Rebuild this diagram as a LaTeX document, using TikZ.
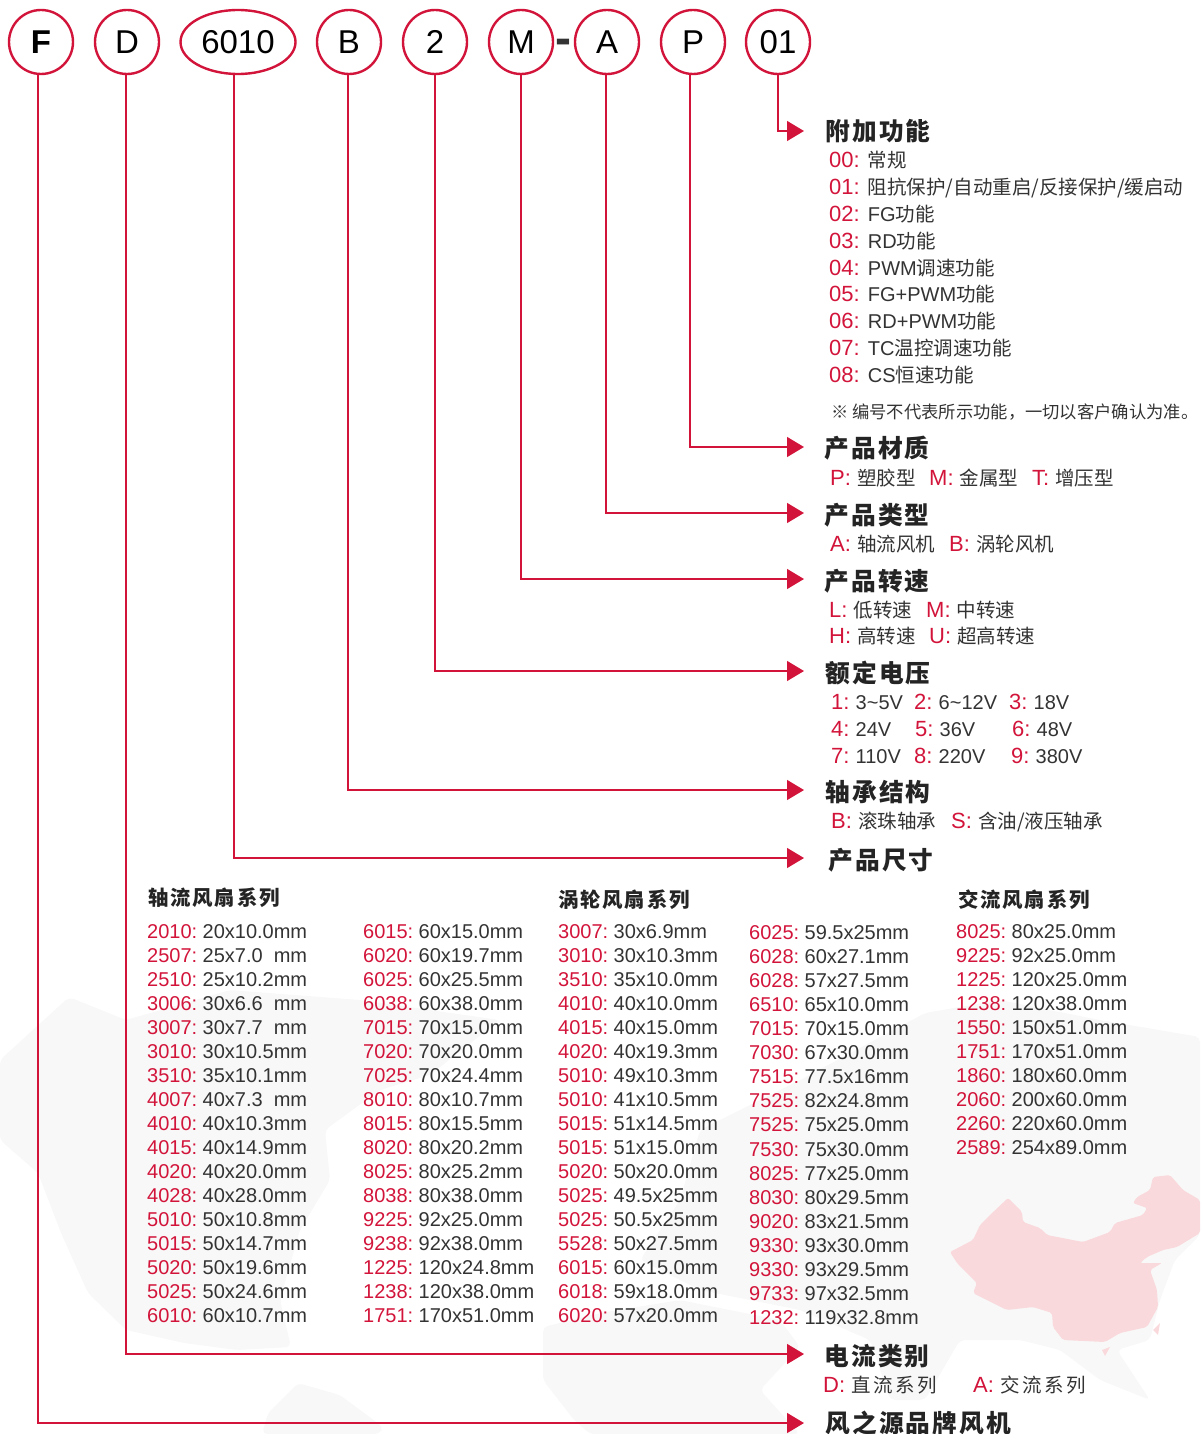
\documentclass[tikz,border=0pt]{standalone}
\usepackage{fontspec}
\setmainfont{Liberation Sans}
\newfontfamily\zhfont{Noto Sans CJK SC}
\newfontfamily\zhtitle[LetterSpace=9]{Noto Sans CJK SC}
\newfontfamily\zhwide[LetterSpace=13]{Noto Sans CJK SC}
\usetikzlibrary{arrows.meta,shapes.geometric}
\definecolor{fanred}{HTML}{D2143A}
\definecolor{fantext}{HTML}{333333}
\definecolor{fanland}{HTML}{F8F8F8}
\definecolor{fanchina}{HTML}{FAD9DC}
\newcommand{\zh}[2][19.5]{{\zhfont\fontsize{#1}{22}\selectfont #2}}
\newcommand{\zhw}[1]{{\zhwide\fontsize{19.5}{22}\selectfont #1}}
\newcommand{\itm}[2]{{\fontsize{22}{24}\selectfont\color{fanred}#1: }#2}
\newcommand{\voltitm}[2]{{\fontsize{22}{24}\selectfont\color{fanred}#1: }\kern-2pt #2}
\newcommand{\sizeitm}[2]{{\color{fanred}#1:} \kern-2pt #2}
\newcommand{\mmgap}{\ \ }

\begin{document}
\begin{tikzpicture}[%
    x=1pt,y=-1pt,
    >={Triangle[width=20pt,length=17pt]},
    ring/.style={draw=fanred,line width=2.4pt,ellipse,inner sep=0pt,minimum width=64pt,minimum height=64pt,
        font=\fontsize{33}{36}\selectfont,text=black},
    feed/.style={draw=fanred,line width=1.4pt,->,color=fanred},
    heading/.style={anchor=west,inner sep=0pt,text=fantext!70!black,font=\zhtitle\fontsize{24.7}{28}\selectfont\bfseries},
    series/.style={anchor=west,inner sep=0pt,text=fantext!70!black,font=\zhtitle\fontsize{20.4}{24}\selectfont\bfseries},
    spec/.style={anchor=base west,inner sep=0pt,text=fantext,font=\fontsize{20}{24}\selectfont},
    ]
    \useasboundingbox (0,0) rectangle (1200,1434);

    % map behind everything
    \fill[fanland,rounded corners=5pt] (0,1060) -- (69,997) -- (126,1020) -- (230,990) -- (360,1000) -- (500,1020) -- (430,1075) -- (380,1090) -- (325,1130) -- (330,1180) -- (300,1230) -- (280,1300) -- (291,1347) -- (237,1350) -- (184,1343) -- (126,1330) -- (88,1293) -- (61,1233) -- (38,1173) -- (0,1140) -- cycle;
    \fill[fanland,rounded corners=5pt] (268,1413) -- (298,1383) -- (340,1395) -- (383,1427) -- (380,1434) -- (262,1434) -- cycle;
    \fill[fanland,rounded corners=5pt] (543,1327) -- (600,1313) -- (680,1300) -- (780,1320) -- (800,1347) -- (760,1390) -- (800,1434) -- (590,1434) -- (574,1420) -- (543,1380) -- cycle;
    \fill[fanland,rounded corners=5pt] (925,1013) -- (1000,1000) -- (1100,1020) -- (1200,1037) -- (1200,1235) -- (1175,1260) -- (1160,1300) -- (1150,1340) -- (1117,1350) -- (1150,1400) -- (1100,1380) -- (1060,1350) -- (1020,1340) -- (960,1340) -- (925,1400) -- (890,1400) -- (870,1340) -- (800,1310) -- (700,1290) -- (640,1260) -- (680,1200) -- (700,1130) -- (800,1080) -- cycle;
    \fill[fanchina,rounded corners=2pt] (950,1252) -- (973,1240) -- (980,1225) -- (990,1215) -- (1008,1198) -- (1022,1212) -- (1023,1222) -- (1040,1228) -- (1047,1235) -- (1083,1242) -- (1110,1232) -- (1115,1223) -- (1143,1215) -- (1147,1208) -- (1133,1203) -- (1137,1197) -- (1150,1190) -- (1153,1177) -- (1170,1175) -- (1183,1190) -- (1200,1200) -- (1200,1233) -- (1177,1247) -- (1163,1250) -- (1147,1257) -- (1140,1263) -- (1162,1263) -- (1150,1270) -- (1157,1290) -- (1158,1307) -- (1147,1327) -- (1120,1333) -- (1105,1342) -- (1063,1340) -- (1053,1327) -- (1052,1313) -- (1033,1307) -- (1007,1310) -- (973,1293) -- (977,1283) -- (957,1263) -- cycle;
    \fill[fanchina] (1102,1350) -- (1110,1347) -- (1105,1356) -- cycle;
    \fill[fanchina] (1153,1330) -- (1160,1323) -- (1158,1335) -- cycle;

    % code letters
    \node[ring,font=\fontsize{33}{36}\selectfont\bfseries] (ringF) at (41,42) {F};
    \node[ring] (ringD) at (127,42) {D};
    \node[ring,minimum width=115pt] (ringSize) at (238,42) {6010};
    \node[ring] (ringB) at (349,42) {B};
    \node[ring] (ringV) at (435,42) {2};
    \node[ring] (ringM) at (521,42) {M};
    \node[inner sep=0pt,font=\fontsize{48}{50}\selectfont\bfseries,text=fantext] (dash) at (563,47) {-};
    \node[ring] (ringA) at (607,42) {A};
    \node[ring] (ringP) at (693,42) {P};
    \node[ring] (ringN) at (778,42) {01};

    % arrow ends
    \coordinate (toN) at (804,131);
    \coordinate (toP) at (804,447);
    \coordinate (toA) at (804,513);
    \coordinate (toM) at (804,579);
    \coordinate (toV) at (804,671);
    \coordinate (toB) at (804,790);
    \coordinate (toSize) at (804,858);
    \coordinate (toD) at (804,1354);
    \coordinate (toF) at (804,1423);

    \draw[feed] (ringN.south) |- (toN);
    \draw[feed] (ringP.-95) |- (toP);
    \draw[feed] (ringA.-92) |- (toA);
    \draw[feed] (ringM.south) |- (toM);
    \draw[feed] (ringV.south) |- (toV);
    \draw[feed] (ringB.-92) |- (toB);
    \draw[feed] (ringSize.-97) |- (toSize);
    \draw[feed] (ringD.-92) |- (toD);
    \draw[feed] (ringF.-95) |- (toF);

    % headings
    \node[heading] (headN) at (825,131) {附加功能};
    \node[heading] (headP) at (824,448) {产品材质};
    \node[heading] (headA) at (824,515) {产品类型};
    \node[heading] (headM) at (824,581) {产品转速};
    \node[heading] (headV) at (825,673) {额定电压};
    \node[heading] (headB) at (825,792) {轴承结构};
    \node[heading] (headSize) at (828,860) {产品尺寸};
    \node[heading] (headD) at (824,1356) {电流类别};
    \node[heading] (headF) at (825,1423) {风之源品牌风机};

    % function list
    \node[spec] (n00) at (829,168) {\itm{00}{\zh{常规}}};
    \node[spec] (n01) at (829,195) {\itm{01}{\zh{阻抗保护/自动重启/反接保护/缓启动}}};
    \node[spec] (n02) at (829,221) {\itm{02}{FG\zh{功能}}};
    \node[spec] (n03) at (829,248) {\itm{03}{RD\zh{功能}}};
    \node[spec] (n04) at (829,275) {\itm{04}{PWM\zh{调速功能}}};
    \node[spec] (n05) at (829,301) {\itm{05}{FG+PWM\zh{功能}}};
    \node[spec] (n06) at (829,328) {\itm{06}{RD+PWM\zh{功能}}};
    \node[spec] (n07) at (829,355) {\itm{07}{TC\zh{温控调速功能}}};
    \node[spec] (n08) at (829,382) {\itm{08}{CS\zh{恒速功能}}};
    \node[spec] (note) at (831,418) {\zh[17.3]{※ 编号不代表所示功能，一切以客户确认为准。}};

    % material, type, speed
    \node[spec] (matP) at (830,485) {\itm{P}{\zh{塑胶型}}};
    \node[spec] (matM) at (929,485) {\itm{M}{\zh{金属型}}};
    \node[spec] (matT) at (1032,485) {\itm{T}{\zh{增压型}}};
    \node[spec] (typA) at (830,551) {\itm{A}{\zh{轴流风机}}};
    \node[spec] (typB) at (949,551) {\itm{B}{\zh{涡轮风机}}};
    \node[spec] (spdL) at (829,617) {\itm{L}{\zh{低转速}}};
    \node[spec] (spdM) at (926,617) {\itm{M}{\zh{中转速}}};
    \node[spec] (spdH) at (829,643) {\itm{H}{\zh{高转速}}};
    \node[spec] (spdU) at (929,643) {\itm{U}{\zh{超高转速}}};

    % voltage
    \node[spec] (v1) at (831,709) {\voltitm{1}{3\textasciitilde 5V}};
    \node[spec] (v2) at (914,709) {\voltitm{2}{6\textasciitilde 12V}};
    \node[spec] (v3) at (1009,709) {\voltitm{3}{18V}};
    \node[spec] (v4) at (831,736) {\voltitm{4}{24V}};
    \node[spec] (v5) at (915,736) {\voltitm{5}{36V}};
    \node[spec] (v6) at (1012,736) {\voltitm{6}{48V}};
    \node[spec] (v7) at (831,763) {\voltitm{7}{110V}};
    \node[spec] (v8) at (914,763) {\voltitm{8}{220V}};
    \node[spec] (v9) at (1011,763) {\voltitm{9}{380V}};

    % bearing and current
    \node[spec] (brgB) at (831,828) {\itm{B}{\zh{滚珠轴承}}};
    \node[spec] (brgS) at (951,828) {\itm{S}{\zh{含油/液压轴承}}};
    \node[spec] (curD) at (823,1392) {\itm{D}{\zhw{直流系列}}};
    \node[spec] (curA) at (973,1392) {\itm{A}{\zhw{交流系列}}};

    % size tables
    \node[series] (serAx) at (148,898) {轴流风扇系列};
    \node[series] (serTu) at (558,900) {涡轮风扇系列};
    \node[series] (serAc) at (958,900) {交流风扇系列};

    \foreach \kk/\vv [count=\i] in {2010/20x10.0mm,2507/25x7.0\mmgap mm,2510/25x10.2mm,3006/30x6.6\mmgap mm,3007/30x7.7\mmgap mm,3010/30x10.5mm,3510/35x10.1mm,4007/40x7.3\mmgap mm,4010/40x10.3mm,4015/40x14.9mm,4020/40x20.0mm,4028/40x28.0mm,5010/50x10.8mm,5015/50x14.7mm,5020/50x19.6mm,5025/50x24.6mm,6010/60x10.7mm}
        \node[spec] (axa\i) at (147,938+24*\i-24) {\sizeitm{\kk}{\vv}};
    \foreach \kk/\vv [count=\i] in {6015/60x15.0mm,6020/60x19.7mm,6025/60x25.5mm,6038/60x38.0mm,7015/70x15.0mm,7020/70x20.0mm,7025/70x24.4mm,8010/80x10.7mm,8015/80x15.5mm,8020/80x20.2mm,8025/80x25.2mm,8038/80x38.0mm,9225/92x25.0mm,9238/92x38.0mm,1225/120x24.8mm,1238/120x38.0mm,1751/170x51.0mm}
        \node[spec] (axb\i) at (363,938+24*\i-24) {\sizeitm{\kk}{\vv}};
    \foreach \kk/\vv [count=\i] in {3007/30x6.9mm,3010/30x10.3mm,3510/35x10.0mm,4010/40x10.0mm,4015/40x15.0mm,4020/40x19.3mm,5010/49x10.3mm,5010/41x10.5mm,5015/51x14.5mm,5015/51x15.0mm,5020/50x20.0mm,5025/49.5x25mm,5025/50.5x25mm,5528/50x27.5mm,6015/60x15.0mm,6018/59x18.0mm,6020/57x20.0mm}
        \node[spec] (tua\i) at (558,938+24*\i-24) {\sizeitm{\kk}{\vv}};
    \foreach \kk/\vv [count=\i] in {6025/59.5x25mm,6028/60x27.1mm,6028/57x27.5mm,6510/65x10.0mm,7015/70x15.0mm,7030/67x30.0mm,7515/77.5x16mm,7525/82x24.8mm,7525/75x25.0mm,7530/75x30.0mm,8025/77x25.0mm,8030/80x29.5mm,9020/83x21.5mm,9330/93x30.0mm,9330/93x29.5mm,9733/97x32.5mm,1232/119x32.8mm}
        \node[spec] (tub\i) at (749,939.5+24.06*\i-24.06) {\sizeitm{\kk}{\vv}};
    \foreach \kk/\vv [count=\i] in {8025/80x25.0mm,9225/92x25.0mm,1225/120x25.0mm,1238/120x38.0mm,1550/150x51.0mm,1751/170x51.0mm,1860/180x60.0mm,2060/200x60.0mm,2260/220x60.0mm,2589/254x89.0mm}
        \node[spec] (acs\i) at (956,938+24*\i-24) {\sizeitm{\kk}{\vv}};
\end{tikzpicture}
\end{document}
